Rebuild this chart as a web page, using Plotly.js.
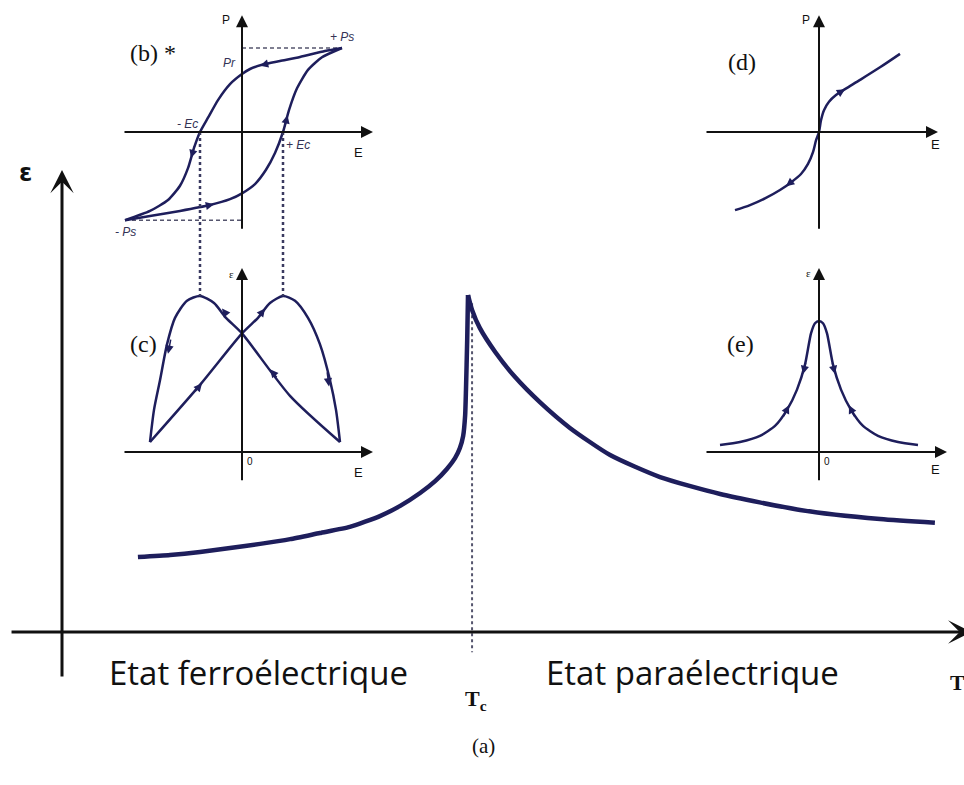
<!DOCTYPE html>
<html>
<head>
<meta charset="utf-8">
<script src="https://cdn.plot.ly/plotly-3.0.1.min.js"></script>
<style>body{margin:0;background:#fff}</style>
</head>
<body>
<div id="chart" style="width:964px;height:785px"></div>
<script>
// (a) permittivity vs temperature, Tc = 100
var tFerro = [18.7, 26.6, 34.0, 41.4, 48.8, 56.2, 63.5, 70.9, 78.3, 83.3, 88.2, 91.9, 94.8, 96.8, 98.0, 98.8, 99.3, 99.5, 99.8, 100];
var epsFerro = [22.1, 22.7, 23.6, 24.8, 26.0, 27.4, 29.2, 31.0, 34.2, 37.2, 41.0, 44.5, 48.1, 51.3, 54.3, 57.8, 64.0, 71.4, 86.1, 99.4];
var tPara = [100, 101.0, 102.9, 106.7, 111.6, 117.7, 125.1, 135.0, 147.3, 162.1, 181.8, 201.5, 215.0];
var epsPara = [99.4, 95.0, 89.7, 82.6, 75.2, 67.8, 60.2, 52.2, 45.7, 40.7, 36.0, 33.3, 32.2];
var Tc = 101;

// (b) hysteresis loop P(E)
var bUpE = [1.0, 0.83, 0.58, 0.38, 0.20, 0.08, 0, -0.12, -0.24, -0.34, -0.42, -0.48, -0.54, -0.62, -0.74, -0.92, -1.17];
var bUpP = [1.0, 0.964, 0.893, 0.845, 0.80, 0.75, 0.69, 0.57, 0.38, 0.17, 0, -0.19, -0.43, -0.64, -0.81, -0.94, -1.05];
var bLowE = [-1.17, -0.92, -0.62, -0.32, -0.12, 0, 0.13, 0.24, 0.33, 0.41, 0.47, 0.55, 0.66, 0.80, 1.0];
var bLowP = [-1.05, -1.0, -0.94, -0.87, -0.80, -0.73, -0.62, -0.45, -0.25, 0, 0.26, 0.52, 0.74, 0.89, 1.0];
var Ec = 0.41, Ps = 1.0, negPs = -1.05, negPsE = -1.17;

// (c) butterfly eps(E)
var cUpE = [-0.92, -0.42, 0, 0.16, 0.28, 0.41, 0.53, 0.66, 0.78, 0.88, 0.94, 0.98];
var cUpEps = [0.064, 0.43, 0.76, 0.86, 0.955, 1.0, 0.97, 0.86, 0.69, 0.46, 0.27, 0.064];
var cDownE = [0.98, 0.48, 0, -0.16, -0.28, -0.42, -0.55, -0.67, -0.75, -0.82, -0.88, -0.92];
var cDownEps = [0.064, 0.36, 0.76, 0.86, 0.955, 1.0, 0.97, 0.86, 0.69, 0.46, 0.27, 0.064];

// (d) paraelectric P(E)
var dE = [-0.84, -0.69, -0.54, -0.39, -0.28, -0.18, -0.11, -0.06, -0.03, 0, 0.02, 0.05, 0.10, 0.17, 0.26, 0.41, 0.61, 0.81];
var dP = [-0.93, -0.87, -0.79, -0.69, -0.60, -0.50, -0.38, -0.24, -0.10, 0, 0.14, 0.26, 0.36, 0.44, 0.51, 0.62, 0.77, 0.93];

// (e) paraelectric eps(E)
var eE = [-0.99, -0.79, -0.59, -0.44, -0.32, -0.22, -0.14, -0.08, -0.04, 0, 0.04, 0.08, 0.14, 0.22, 0.32, 0.44, 0.59, 0.79, 0.99];
var eEps = [0.045, 0.064, 0.103, 0.167, 0.27, 0.40, 0.56, 0.76, 0.825, 0.84, 0.825, 0.76, 0.56, 0.40, 0.27, 0.167, 0.103, 0.064, 0.045];

// direction arrows: [headX, headY, tailX, tailY]
var bArrows = [[0.18, 0.79, 0.28, 0.82], [-0.51, -0.31, -0.47, -0.15], [-0.28, -0.86, -0.38, -0.885], [0.455, 0.20, 0.425, 0.05]];
var cArrows = [[-0.40, 0.44, -0.48, 0.38], [0.23, 0.92, 0.17, 0.87], [0.87, 0.42, 0.85, 0.52],
               [0.28, 0.53, 0.36, 0.47], [-0.20, 0.92, -0.14, 0.87], [-0.74, 0.63, -0.71, 0.73]];
var dArrows = [[0.26, 0.51, 0.18, 0.45], [-0.33, -0.645, -0.24, -0.56]];
var eArrows = [[-0.16, 0.50, -0.13, 0.58], [-0.30, 0.30, -0.36, 0.22], [0.16, 0.50, 0.13, 0.58], [0.30, 0.30, 0.36, 0.22]];

var W = 964, H = 785;
var navy = '#1e1e5c';
var ink = '#111111';

// pixel box -> domain + range
function xbox(p0, p1, origin, scale) {
    return {domain: [p0 / W, p1 / W], range: [(p0 - origin) / scale, (p1 - origin) / scale]};
}
function ybox(p0, p1, origin, scale) {
    return {domain: [1 - p1 / H, 1 - p0 / H], range: [(origin - p1) / scale, (origin - p0) / scale]};
}
function hidden(o, extra) {
    var a = Object.assign({visible: false, fixedrange: true}, o);
    return Object.assign(a, extra || {});
}
function toPaperY(ax, v) {
    var f = (v - ax.range[0]) / (ax.range[1] - ax.range[0]);
    return ax.domain[0] + f * (ax.domain[1] - ax.domain[0]);
}

var xMain = hidden(xbox(0, 964, 62, 4.06));
var yMain = hidden(ybox(0, 785, 632, 3.39));
var x2 = hidden(xbox(100, 400, 242, 100), {anchor: 'y2'});
var y2 = hidden(ybox(0, 252, 132, 84), {anchor: 'x2'});
var y3 = hidden(ybox(252, 500, 452, 156), {anchor: 'x2'});
var x3 = hidden(xbox(690, 960, 819, 100), {anchor: 'y4'});
var y4 = hidden(ybox(0, 252, 132, 84), {anchor: 'x3'});
var y5 = hidden(ybox(252, 500, 452, 156), {anchor: 'x3'});

function curve(x, y, xa, ya, w, sm) {
    return {type: 'scatter', mode: 'lines', x: x, y: y, xaxis: xa, yaxis: ya,
            line: {color: navy, width: w || 2.5, shape: 'spline', smoothing: sm || 0.7},
            hoverinfo: 'skip', showlegend: false};
}
function guide(x, y, xa, ya, w, dash) {
    return {type: 'scatter', mode: 'lines', x: x, y: y, xaxis: xa, yaxis: ya,
            line: {color: '#55556e', width: w || 1.6, dash: dash || 'dot'}, hoverinfo: 'skip', showlegend: false};
}

var traces = [
    guide([Tc, Tc], [97, -6], 'x', 'y', 2, 'dot'),
    curve(tFerro, epsFerro, 'x', 'y', 4.5, 0.5),
    curve(tPara, epsPara, 'x', 'y', 4.5, 0.6),
    guide([0, 1.0], [Ps, Ps], 'x2', 'y2', 1.4, '4px,3px'),
    guide([negPsE, 0], [negPs, negPs], 'x2', 'y2', 1.4, '4px,3px'),
    curve(bUpE, bUpP, 'x2', 'y2', 2.5, 0.6),
    curve(bLowE, bLowP, 'x2', 'y2', 2.5, 0.6),
    curve(cUpE, cUpEps, 'x2', 'y3'),
    curve(cDownE, cDownEps, 'x2', 'y3'),
    curve(dE, dP, 'x3', 'y4', 2.5, 0.8),
    curve(eE, eEps, 'x3', 'y5', 2.5, 0.6)
];

var annotations = [];
function axisArrow(x, y, ax, ay, xr, yr, w, head, size) {
    annotations.push({x: x, y: y, ax: ax, ay: ay, xref: xr, yref: yr, axref: xr, ayref: yr,
        text: '', showarrow: true, arrowhead: head, arrowsize: size, arrowwidth: w,
        arrowcolor: ink, standoff: 0, startstandoff: 0});
}
function dirArrows(list, xr, yr) {
    list.forEach(function (a) {
        annotations.push({x: a[0], y: a[1], ax: a[2], ay: a[3], xref: xr, yref: yr, axref: xr, ayref: yr,
            text: '', showarrow: true, arrowhead: 2, arrowsize: 1.1, arrowwidth: 1.5,
            arrowcolor: navy, standoff: 0});
    });
}
function label(text, x, y, xr, yr, size, family, color) {
    annotations.push({x: x, y: y, xref: xr, yref: yr, text: text, showarrow: false,
        font: {size: size, family: family, color: color || ink}, xanchor: 'center', yanchor: 'middle'});
}

// main axes
axisArrow(224, 0, -12.8, 0, 'x', 'y', 3, 3, 1.3);
axisArrow(0, 136.3, 0, -13.6, 'x', 'y', 3, 3, 1.3);
// inset axes
axisArrow(1.31, 0, -1.19, 0, 'x2', 'y2', 2, 2, 1.2);
axisArrow(0, 1.39, 0, -1.17, 'x2', 'y2', 2, 2, 1.2);
axisArrow(1.31, 0, -1.19, 0, 'x2', 'y3', 2, 2, 1.2);
axisArrow(0, 1.18, 0, -0.19, 'x2', 'y3', 2, 2, 1.2);
axisArrow(1.19, 0, -1.14, 0, 'x3', 'y4', 2, 2, 1.2);
axisArrow(0, 1.39, 0, -1.17, 'x3', 'y4', 2, 2, 1.2);
axisArrow(1.28, 0, -1.14, 0, 'x3', 'y5', 2, 2, 1.2);
axisArrow(0, 1.18, 0, -0.19, 'x3', 'y5', 2, 2, 1.2);

dirArrows(bArrows, 'x2', 'y2');
dirArrows(cArrows, 'x2', 'y3');
dirArrows(dArrows, 'x3', 'y4');
dirArrows(eArrows, 'x3', 'y5');

var sans = 'Open Sans, Liberation Sans, sans-serif';
var serif = 'Liberation Serif, Times New Roman, serif';
var small = 'Liberation Sans, Arial, sans-serif';
var soft = '#333355';

// main labels
label('<b>ε</b>', -9.1, 135.4, 'x', 'y', 24, 'DejaVu Sans');
label('Etat ferroélectrique', 48.3, -11.8, 'x', 'y', 33, sans);
label('Etat paraélectrique', 155.2, -11.8, 'x', 'y', 33, sans);
label('<b>T</b>', 220.5, -15, 'x', 'y', 22, serif);
label('<b>T<sub>c</sub></b>', 102, -20, 'x', 'y', 22, serif);
label('(a)', 103.7, -33.6, 'x', 'y', 21, serif);

// (b)
label('(b) *', -0.89, 0.94, 'x2', 'y2', 24, serif);
label('P', -0.16, 1.33, 'x2', 'y2', 12, small);
label('E', 1.16, -0.24, 'x2', 'y2', 13, small);
label('<i>+ Ps</i>', 1.0, 1.13, 'x2', 'y2', 12, small, soft);
label('<i>Pr</i>', -0.13, 0.82, 'x2', 'y2', 12, small, soft);
label('<i>- Ec</i>', -0.55, 0.10, 'x2', 'y2', 12, small, soft);
label('<i>+ Ec</i>', 0.56, -0.15, 'x2', 'y2', 12, small, soft);
label('<i>- Ps</i>', -1.17, -1.19, 'x2', 'y2', 12, small, soft);
// (c)
label('(c)', -0.99, 0.69, 'x2', 'y3', 24, serif);
label('ε', -0.11, 1.14, 'x2', 'y3', 11, serif);
label('0', 0.08, -0.064, 'x2', 'y3', 10, small);
label('E', 1.16, -0.13, 'x2', 'y3', 13, small);
// (d)
label('(d)', -0.77, 0.83, 'x3', 'y4', 24, serif);
label('P', -0.13, 1.33, 'x3', 'y4', 12, small);
label('E', 1.16, -0.15, 'x3', 'y4', 13, small);
// (e)
label('(e)', -0.79, 0.69, 'x3', 'y5', 24, serif);
label('ε', -0.11, 1.15, 'x3', 'y5', 11, serif);
label('0', 0.08, -0.064, 'x3', 'y5', 10, small);
label('E', 1.16, -0.115, 'x3', 'y5', 13, small);

// dashed links from the coercive fields down to the butterfly peaks
var shapes = [-Ec - 0.01, Ec].map(function (e) {
    return {type: 'line', xref: 'x2', yref: 'paper', x0: e, x1: e,
            y0: toPaperY(y2, 0), y1: toPaperY(y3, 1.0),
            line: {color: '#3a3a60', width: 2.5, dash: 'dot'}};
});

var layout = {
    width: W,
    height: H,
    margin: {t: 0, l: 0, r: 0, b: 0},
    paper_bgcolor: '#ffffff',
    plot_bgcolor: 'rgba(0,0,0,0)',
    showlegend: false,
    xaxis: xMain, yaxis: yMain,
    xaxis2: x2, yaxis2: y2, yaxis3: y3,
    xaxis3: x3, yaxis4: y4, yaxis5: y5,
    annotations: annotations,
    shapes: shapes
};

Plotly.newPlot('chart', traces, layout, {staticPlot: true});
</script>
</body>
</html>
